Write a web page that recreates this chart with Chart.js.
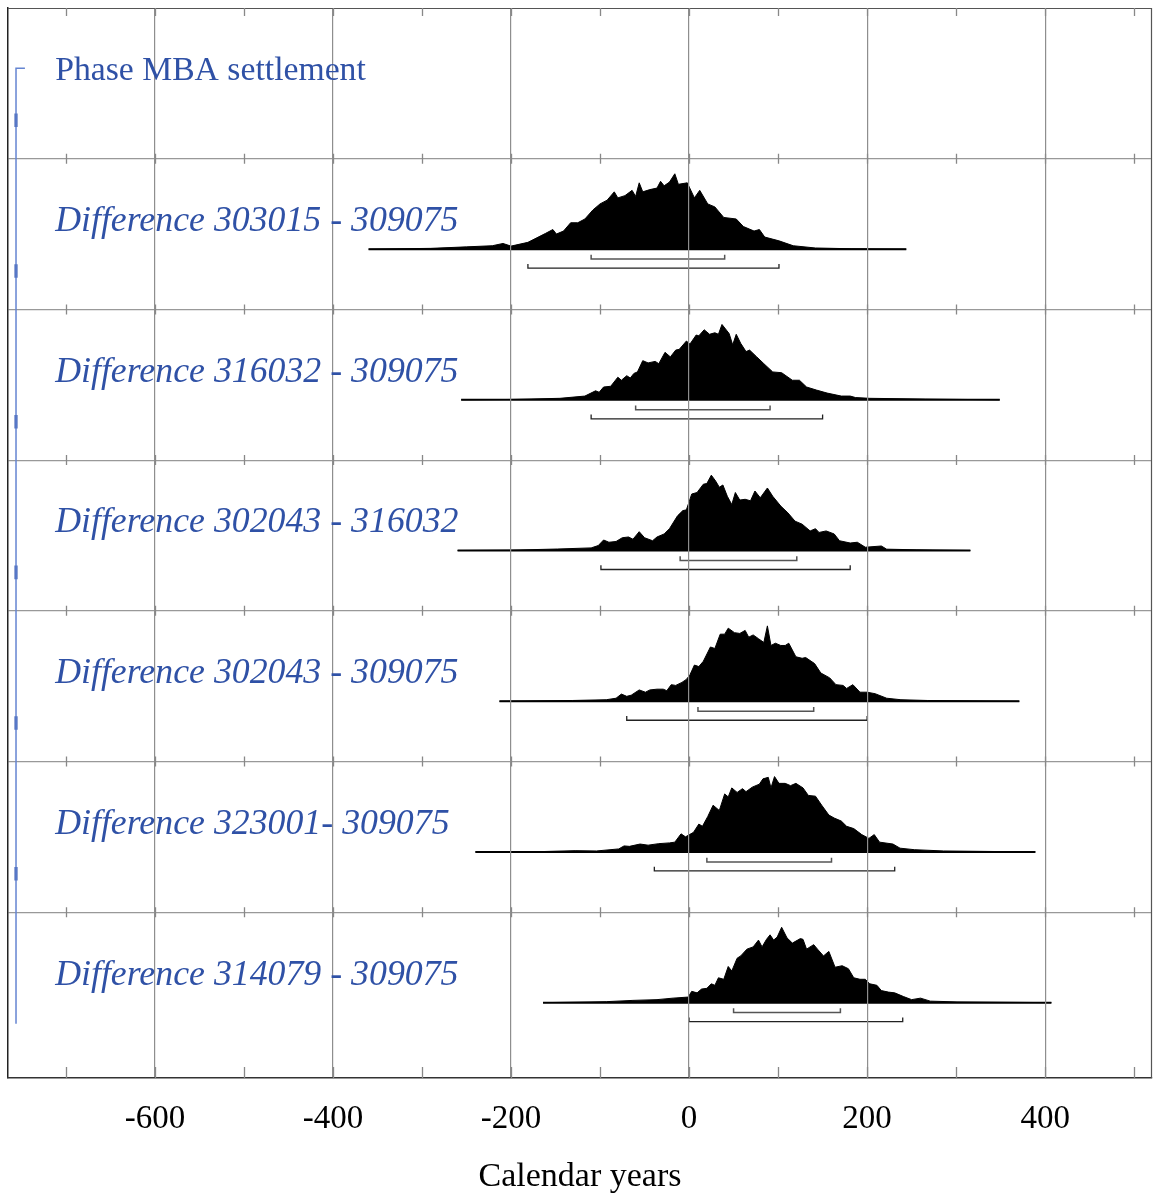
<!DOCTYPE html>
<html>
<head>
<meta charset="utf-8">
<title>Phase MBA settlement – differences</title>
<script src="https://cdn.jsdelivr.net/npm/chart.js@4.4.1/dist/chart.umd.min.js"></script>
<style>
  html, body { margin: 0; padding: 0; background: #fff; }
  #wrap { width: 1153px; height: 1199px; }
</style>
</head>
<body>
<div id="wrap"><canvas id="chart" width="1153" height="1199"></canvas></div>
<script>
/* ── DATA ──────────────────────────────────────────────── */
const rowLabels = [
  'Phase MBA settlement',
  'Difference 303015 - 309075',
  'Difference 316032 - 309075',
  'Difference 302043 - 316032',
  'Difference 302043 - 309075',
  'Difference 323001- 309075',
  'Difference 314079 - 309075'
];

const tickValues = [-700, -600, -500, -400, -300, -200, -100, 0, 100, 200, 300, 400, 500];

/* baseline span of each distribution (calendar years) */
const spanStart = [-360, -256, -260, -213, -240, -164];
const spanEnd   = [ 244,  349,  316,  371,  389,  407];

/* 68.2% and 95.4% ranges */
const range68From = [-110, -60, -10,  10,  20,  50];
const range68To   = [  40,  91, 121, 140, 160, 170];
const range95From = [-181, -110, -99, -70, -39,   0];
const range95To   = [ 101,  150, 181, 200, 231, 240];

/* Difference 303015 - 309075 */
const d1Years = [-360,-290,-250,-221,-209,-200,-181,-161,-153,-149,-141,-133,-125,-117,-108,-100,-92,-84,-80,-72,-64,-60,-56,-52,-44,-36,-32,-28,-22,-16,-12,-2,6,12,21,29,39,53,61,73,79,85,101,117,142,182,244];
const d1Prob  = [0,0.01,0.03,0.045,0.075,0.04,0.09,0.21,0.26,0.2,0.24,0.35,0.35,0.40,0.52,0.6,0.65,0.76,0.68,0.71,0.78,0.7,0.88,0.76,0.79,0.81,0.9,0.84,0.89,1.0,0.86,0.88,0.68,0.78,0.6,0.56,0.42,0.40,0.3,0.24,0.26,0.16,0.11,0.045,0.015,0.005,0];

/* Difference 316032 - 309075 */
const d2Years = [-256,-200,-145,-117,-105,-101,-96,-88,-80,-76,-70,-66,-62,-58,-52,-46,-38,-34,-27,-21,-15,-11,-3,1,8,11,17,23,29,33,37,45,49,53,58,64,68,76,84,94,104,116,124,132,143,155,171,181,187,203,266,349];
const d2Prob  = [0,0.005,0.02,0.05,0.12,0.10,0.17,0.18,0.30,0.26,0.32,0.29,0.35,0.37,0.52,0.49,0.51,0.48,0.63,0.57,0.66,0.67,0.78,0.74,0.86,0.85,0.93,0.87,0.89,0.87,1.0,0.88,0.73,0.87,0.75,0.64,0.66,0.57,0.48,0.37,0.36,0.26,0.26,0.17,0.13,0.09,0.05,0.05,0.03,0.02,0.01,0];

/* Difference 302043 - 316032 */
const d3Years = [-260,-200,-148,-110,-102,-96,-90,-82,-75,-68,-63,-56,-50,-41,-36,-28,-22,-13,-7,-3,3,9,16,20,25,30,34,38,43,48,52,57,63,69,74,80,88,94,103,111,119,127,136,142,146,154,163,169,181,189,198,216,222,255,316];
const d3Prob  = [0,0.005,0.02,0.035,0.066,0.14,0.11,0.12,0.17,0.18,0.15,0.25,0.17,0.13,0.18,0.22,0.29,0.46,0.53,0.54,0.75,0.77,0.88,0.89,1.0,0.92,0.84,0.87,0.72,0.61,0.77,0.67,0.68,0.66,0.79,0.70,0.83,0.72,0.59,0.50,0.39,0.35,0.26,0.29,0.24,0.26,0.22,0.13,0.10,0.11,0.044,0.06,0.018,0.01,0];

/* Difference 302043 - 309075 */
const d4Years = [-213,-131,-93,-82,-76,-70,-65,-56,-49,-44,-36,-29,-25,-20,-15,-8,-3,1,6,11,16,24,29,35,40,44,51,57,63,67,72,78,84,88,92,97,103,108,112,120,127,131,141,148,158,165,173,177,184,192,200,209,222,238,268,371];
const d4Prob  = [0,0.01,0.02,0.04,0.095,0.065,0.08,0.15,0.12,0.15,0.16,0.16,0.14,0.22,0.21,0.25,0.29,0.35,0.48,0.46,0.53,0.72,0.70,0.89,0.89,0.97,0.91,0.90,0.94,0.85,0.88,0.83,0.78,1.0,0.74,0.77,0.74,0.74,0.77,0.59,0.57,0.58,0.50,0.375,0.31,0.22,0.21,0.17,0.22,0.12,0.12,0.10,0.04,0.02,0.01,0];

/* Difference 323001- 309075 */
const d5Years = [-240,-165,-128,-104,-79,-73,-67,-55,-46,-34,-22,-16,-9,-4,5,11,15,21,27,34,40,44,48,54,60,64,71,79,83,89,92,96,101,108,114,120,128,134,142,149,157,163,171,177,185,194,202,208,214,229,237,253,286,389];
const d5Prob  = [0,0.005,0.017,0.013,0.04,0.08,0.074,0.105,0.09,0.11,0.12,0.13,0.24,0.2,0.26,0.37,0.34,0.47,0.62,0.55,0.77,0.73,0.85,0.79,0.84,0.80,0.86,0.90,0.97,0.99,0.85,1.0,0.91,0.91,0.88,0.91,0.85,0.75,0.74,0.62,0.49,0.45,0.41,0.34,0.31,0.23,0.18,0.23,0.13,0.105,0.05,0.03,0.013,0];

/* Difference 314079 - 309075 */
const d6Years = [-164,-93,-63,-36,-18,-1,3,9,14,20,25,29,33,39,44,48,54,58,65,72,78,82,87,91,95,99,104,110,116,125,128,132,140,145,151,157,164,172,179,185,192,198,203,211,216,224,231,241,250,260,271,301,407];
const d6Prob  = [0,0.013,0.03,0.04,0.06,0.074,0.15,0.13,0.18,0.19,0.25,0.23,0.33,0.31,0.48,0.42,0.59,0.62,0.71,0.74,0.83,0.74,0.84,0.90,0.83,0.87,1.0,0.86,0.79,0.85,0.84,0.71,0.77,0.70,0.62,0.68,0.47,0.49,0.45,0.33,0.31,0.31,0.25,0.23,0.16,0.14,0.13,0.08,0.04,0.06,0.02,0.01,0];

const distYears = [d1Years, d2Years, d3Years, d4Years, d5Years, d6Years];
const distProb  = [d1Prob,  d2Prob,  d3Prob,  d4Prob,  d5Prob,  d6Prob];

/* ── LAYOUT (row units, y axis reversed) ───────────────── */
const ROWS      = 7.1;     // chart height in rows
const BASE_OFF  = 0.6;     // distribution baseline inside row
const PEAK      = 0.5;     // height of normalised peak
const GAP68     = 0.066;
const GAP95     = 0.126;
const TICK_H    = 0.028;
const LABEL_X   = -712;
const LABEL_OFF = 0.48;
const BRACE_X   = -756;

const SERIF = '"Liberation Serif", "Times New Roman", "DejaVu Serif", serif';
const LABEL_BLUE = '#2f51a6';

/* ── DATASETS ──────────────────────────────────────────── */
const datasets = [];

distYears.forEach((years, i) => {
  const base = i + 1 + BASE_OFF;
  datasets.push({
    data: years.map((x, k) => ({ x, y: base - distProb[i][k] * PEAK })),
    borderColor: '#000',
    backgroundColor: '#000',
    borderWidth: 1,
    pointRadius: 0,
    tension: 0,
    fill: { value: base }
  });
});

distYears.forEach((_, i) => {
  const base = i + 1 + BASE_OFF;
  datasets.push({
    data: [{ x: spanStart[i], y: base }, { x: spanEnd[i], y: base }],
    borderColor: '#000', borderWidth: 2, pointRadius: 0, fill: false
  });
  const y68 = base + GAP68, y95 = base + GAP95;
  datasets.push({
    data: [
      { x: range68From[i], y: y68 - TICK_H }, { x: range68From[i], y: y68 },
      { x: range68To[i],   y: y68 },          { x: range68To[i],   y: y68 - TICK_H }
    ],
    borderColor: '#555', borderWidth: 1.5, pointRadius: 0, fill: false
  });
  datasets.push({
    data: [
      { x: range95From[i], y: y95 - TICK_H }, { x: range95From[i], y: y95 },
      { x: range95To[i],   y: y95 },          { x: range95To[i],   y: y95 - TICK_H }
    ],
    borderColor: '#222', borderWidth: 1.3, pointRadius: 0, fill: false
  });
});

/* phase bracket on the left */
datasets.push({
  data: [{ x: BRACE_X + 10, y: 0.4 }, { x: BRACE_X, y: 0.4 }, { x: BRACE_X, y: 6.74 }],
  borderColor: '#6585d2', borderWidth: 1.5, pointRadius: 0, fill: false
});
const markData = [];
for (let i = 0; i < 6; i++) {
  markData.push({ x: BRACE_X, y: i + 0.7 }, { x: BRACE_X, y: i + 0.79 }, { x: BRACE_X, y: null });
}
datasets.push({
  data: markData, borderColor: '#2d50aa', borderWidth: 3, pointRadius: 0,
  fill: false, spanGaps: false
});

/* ── PLUGIN: frame, inner ticks, row labels ─────────────── */
const oxcalPlugin = {
  id: 'oxcal',
  afterDraw(chart) {
    const { ctx, chartArea: a, scales: { x, y } } = chart;
    ctx.save();

    ctx.strokeStyle = '#555';
    ctx.lineWidth = 1.2;
    ctx.beginPath();
    ctx.moveTo(a.left, a.top + 0.5); ctx.lineTo(a.right, a.top + 0.5);
    ctx.moveTo(a.right - 0.5, a.top); ctx.lineTo(a.right - 0.5, a.bottom);
    ctx.stroke();

    ctx.strokeStyle = '#888';
    ctx.lineWidth = 1.3;
    ctx.beginPath();
    tickValues.forEach(v => {
      const px = Math.round(x.getPixelForValue(v)) + 0.5;
      ctx.moveTo(px, a.top); ctx.lineTo(px, a.top + 8);
      ctx.moveTo(px, a.bottom - 11); ctx.lineTo(px, a.bottom);
      for (let r = 1; r <= 6; r++) {
        const py = y.getPixelForValue(r);
        ctx.moveTo(px, py - 5); ctx.lineTo(px, py + 5);
      }
    });
    ctx.stroke();

    ctx.fillStyle = LABEL_BLUE;
    ctx.textAlign = 'left';
    ctx.textBaseline = 'alphabetic';
    rowLabels.forEach((t, i) => {
      ctx.font = (i === 0 ? '33.7px ' : 'italic 35.8px ') + SERIF;
      ctx.fillText(t, x.getPixelForValue(LABEL_X), y.getPixelForValue(i + LABEL_OFF));
    });
    ctx.restore();
  }
};

/* ── CHART ─────────────────────────────────────────────── */
new Chart(document.getElementById('chart'), {
  type: 'line',
  data: { datasets },
  plugins: [oxcalPlugin],
  options: {
    responsive: false,
    animation: false,
    layout: { padding: { top: 8, left: 8, right: 1, bottom: 0 } },
    plugins: { legend: { display: false }, tooltip: { enabled: false } },
    scales: {
      x: {
        type: 'linear', min: -765, max: 520, position: 'bottom',
        afterBuildTicks: s => { s.ticks = tickValues.map(v => ({ value: v })); },
        afterFit: s => { s.height = 121; s.paddingLeft = 0; s.paddingRight = 0; },
        grid: {
          color: c => (c.tick && c.tick.value % 200 === 0) ? '#8e8e8e' : 'rgba(0,0,0,0)',
          lineWidth: 1.2, drawTicks: false, z: 1
        },
        border: { display: true, color: '#333', width: 1.5, z: 1 },
        ticks: {
          callback: v => (v % 200 === 0 ? String(v) : ''),
          font: { family: SERIF, size: 33 }, color: '#000',
          padding: 22, maxRotation: 0, autoSkip: false
        },
        title: {
          display: true, text: 'Calendar years', color: '#000',
          font: { family: SERIF, size: 34 }, padding: { top: 0, bottom: 2 }
        }
      },
      y: {
        type: 'linear', min: 0, max: ROWS, reverse: true,
        afterBuildTicks: s => { s.ticks = [1, 2, 3, 4, 5, 6].map(v => ({ value: v })); },
        afterFit: s => { s.width = 0; },
        grid: { color: '#999', lineWidth: 1.2, drawTicks: false },
        border: { display: true, color: '#222', width: 1.5 },
        ticks: { display: false }
      }
    }
  }
});
</script>
</body>
</html>
